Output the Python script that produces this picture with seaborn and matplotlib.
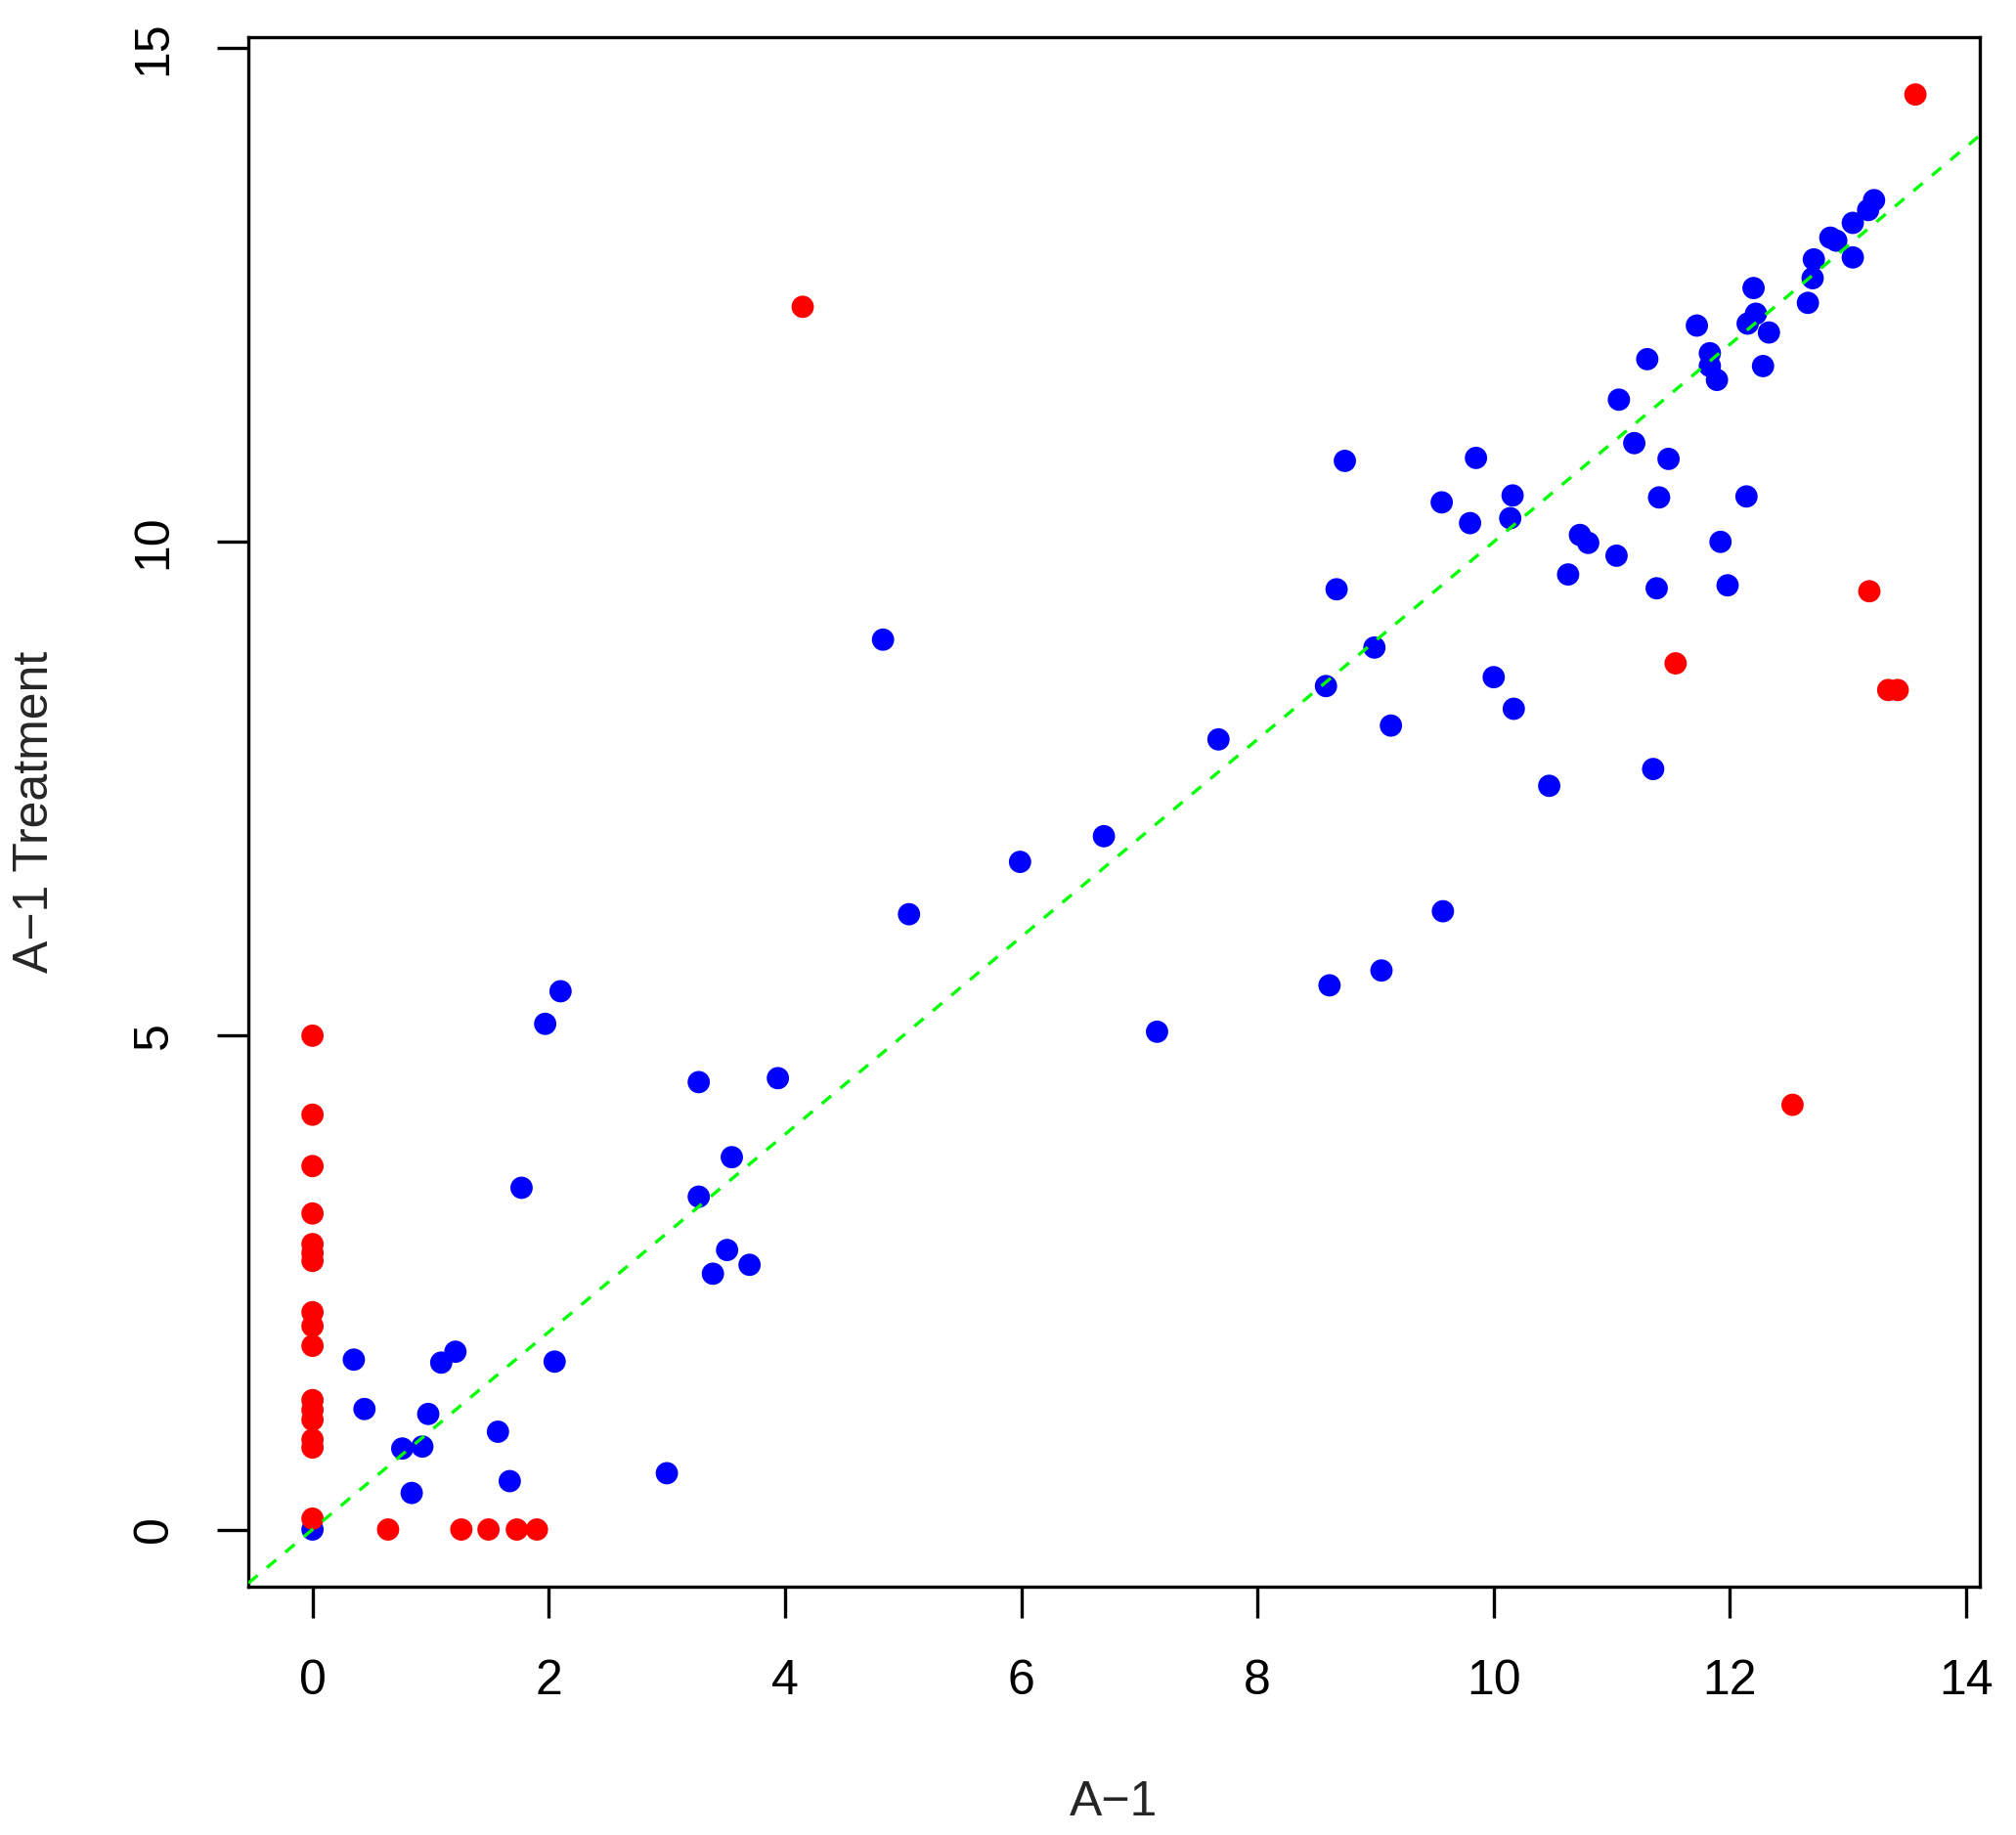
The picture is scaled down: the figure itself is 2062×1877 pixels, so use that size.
import numpy as np
import pandas as pd
import matplotlib
matplotlib.use("Agg")
import matplotlib.pyplot as plt
import seaborn as sns

# points close to the diagonal (blue)
blue_x = [0.00, 0.35, 0.44, 0.76, 0.84, 0.93, 0.98, 1.09, 1.21, 1.57, 1.67,
          1.77, 1.97, 2.05, 2.10, 3.00, 3.27, 3.27, 3.39, 3.51, 3.55, 3.70,
          3.94, 4.83, 5.05, 5.99, 6.70, 7.15, 7.67, 8.58, 8.61, 8.67, 8.74,
          8.99, 9.05, 9.13, 9.56, 9.57, 9.80, 9.85, 10.00, 10.16, 10.14, 10.17,
          10.47, 10.63, 10.73, 10.80, 11.04, 11.06, 11.19, 11.30, 11.35, 11.38,
          11.40, 11.48, 11.72, 11.83, 11.83, 11.89, 11.92, 11.98, 12.14, 12.15,
          12.20, 12.22, 12.28, 12.33, 12.66, 12.70, 12.71, 12.85, 12.90, 13.04,
          13.04, 13.17, 13.22]
blue_y = [0.00, 1.72, 1.22, 0.82, 0.37, 0.84, 1.17, 1.69, 1.80, 0.99, 0.49,
          3.46, 5.12, 1.70, 5.45, 0.57, 4.53, 3.37, 2.59, 2.83, 3.77, 2.68,
          4.57, 9.01, 6.23, 6.76, 7.02, 5.04, 8.00, 8.54, 5.51, 9.52, 10.82,
          8.93, 5.66, 8.14, 10.40, 6.26, 10.19, 10.85, 8.63, 10.47, 10.24, 8.31,
          7.53, 9.67, 10.07, 9.99, 9.86, 11.44, 11.00, 11.85, 7.70, 9.53,
          10.45, 10.84, 12.19, 11.91, 11.78, 11.64, 10.00, 9.56, 10.46, 12.21,
          12.57, 12.31, 11.78, 12.12, 12.42, 12.67, 12.86, 13.08, 13.05, 13.23,
          12.88, 13.36, 13.46]

# outlying points (red)
red_x = [0.00, 0.00, 0.00, 0.00, 0.00, 0.00, 0.00, 0.00, 0.00, 0.00, 0.00,
         0.00, 0.00, 0.00, 0.00, 0.00, 0.64, 1.26, 1.49, 1.73, 1.90, 4.15,
         13.57, 13.18, 11.54, 13.34, 13.42, 12.53]
red_y = [5.00, 4.20, 3.68, 3.20, 2.89, 2.80, 2.72, 2.20, 2.06, 1.86, 1.31,
         1.21, 1.11, 0.91, 0.83, 0.11, 0.00, 0.00, 0.00, 0.00, 0.00, 12.38,
         14.53, 9.50, 8.77, 8.50, 8.50, 4.30]

x_ticks = [0, 2, 4, 6, 8, 10, 12, 14]
y_ticks = [0, 5, 10, 15]

df = pd.DataFrame({
    "x": blue_x + red_x,
    "y": blue_y + red_y,
    "grp": ["blue"] * len(blue_x) + ["red"] * len(red_x),
})

sns.set_theme(style="ticks")
plt.rcParams["font.family"] = ["Liberation Sans", "DejaVu Sans"]
plt.rcParams["axes.unicode_minus"] = True

fig = plt.figure(figsize=(2062 / 300, 1877 / 300), dpi=300)
ax = fig.add_axes([0.1232, 0.1352, 0.8587, 0.8446])

sns.scatterplot(data=df, x="x", y="y", hue="grp",
                palette={"blue": "#0000ff", "red": "#ff0000"},
                s=30, linewidth=0, legend=False, ax=ax, zorder=2)
ax.axline((0, 0), slope=1, color="#00ff00", lw=0.8,
          linestyle=(0, (3.7, 3.7)), zorder=3)

xr = max(df["x"]) - min(df["x"])
yr = max(df["y"]) - min(df["y"])
ax.set_xlim(min(df["x"]) - 0.04 * xr, max(df["x"]) + 0.04 * xr)
ax.set_ylim(min(df["y"]) - 0.04 * yr, max(df["y"]) + 0.04 * yr)

ax.set_xticks(x_ticks)
ax.set_yticks(y_ticks)
ax.tick_params(axis="both", direction="out", length=7.6, width=0.8,
               labelsize=12, pad=10, color="black", labelcolor="black")
for lab in ax.get_yticklabels():
    lab.set_rotation(90)
    lab.set_va("center")
for sp in ax.spines.values():
    sp.set_visible(True)
    sp.set_linewidth(0.8)
    sp.set_color("black")

ax.set_xlabel("A\u22121", fontsize=12, va="center")
ax.set_ylabel("A\u22121 Treatment", fontsize=12, va="center")
ax.xaxis.set_label_coords(0.5, -0.139)
ax.yaxis.set_label_coords(-0.123, 0.5)

fig.savefig("out.png", dpi=300, facecolor="white")
